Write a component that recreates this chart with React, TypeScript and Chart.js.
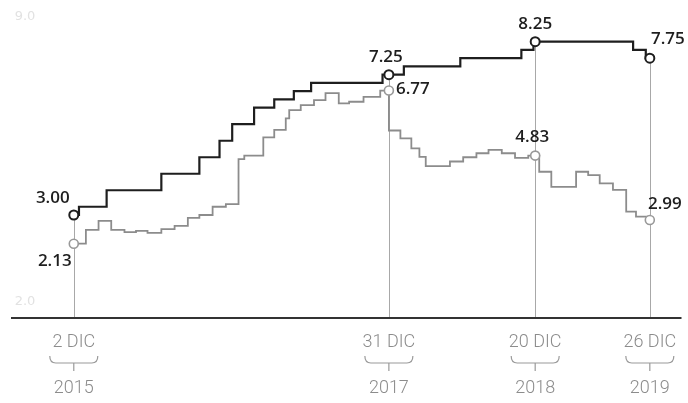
import React, { useEffect, useRef } from "react";
import { Chart, registerables } from "chart.js";

Chart.register(...registerables);

// Position along the (non-linear) timeline: 0 = 2 DIC 2015, 100 = 26 DIC 2019
const rateT = [0, 0.9, 5.7, 15.2, 21.8, 25.3, 27.5, 31.3, 34.8, 38.2, 41.2, 53.6, 57.3, 67.1, 77.7, 79.8, 97.1, 99.3, 100];
const rateV = [3.0, 3.25, 3.75, 4.25, 4.75, 5.25, 5.75, 6.25, 6.5, 6.75, 7.0, 7.25, 7.5, 7.75, 8.0, 8.25, 8.0, 7.75, 7.75];

const inflT = [0, 2.1, 4.3, 6.5, 8.8, 10.8, 12.8, 15.2, 17.5, 19.8, 21.8, 24.1, 26.4, 28.6, 29.6, 32.9, 34.8, 36.8, 37.4, 39.4, 41.7, 43.7, 46.0, 47.8, 50.3, 53.2, 54.7, 54.7, 56.7, 58.6, 60.0, 61.1, 65.3, 67.6, 69.9, 72.0, 74.3, 76.6, 78.9, 80.8, 82.9, 87.2, 89.3, 91.3, 93.6, 95.9, 97.6, 100];
const inflV = [2.13, 2.55, 2.82, 2.55, 2.48, 2.52, 2.46, 2.57, 2.67, 2.91, 3.0, 3.25, 3.33, 4.69, 4.8, 5.35, 5.58, 5.93, 6.18, 6.33, 6.48, 6.69, 6.38, 6.43, 6.58, 6.77, 6.77, 5.56, 5.32, 5.02, 4.76, 4.48, 4.62, 4.75, 4.87, 4.97, 4.87, 4.73, 4.8, 4.31, 3.85, 4.31, 4.21, 3.96, 3.76, 3.10, 2.95, 2.85];

const markerT = [0, 54.7, 80.1, 100];
const rateMarkV = [3.0, 7.25, 8.25, 7.75];
const inflMarkV = [2.13, 6.77, 4.8, 2.85];
const rateLabels = ["3.00", "7.25", "8.25", "7.75"];
const inflLabels = ["2.13", "6.77", "4.83", "2.99"];
const dateLabels = ["2 DIC", "31 DIC", "20 DIC", "26 DIC"];
const yearLabels = ["2015", "2017", "2018", "2019"];
const ghostTicks = ["9.0", "2.0"];

const rateOffsets = [[-21, -17], [-3, -18], [0, -18], [18, -19]];
const inflOffsets = [[-19, 17], [24, -1], [-3, -18], [15, -16]];

const zip = (xs: number[], ys: number[]) => xs.map((x, i) => ({ x, y: ys[i] }));

export default function App() {
  const ref = useRef<HTMLCanvasElement | null>(null);

  useEffect(() => {
    if (!ref.current) return;

    const decor = {
      id: "decor",
      beforeDatasetsDraw(chart: any) {
        const { ctx, chartArea, scales } = chart;
        const xs = scales.x;
        const ys = scales.y;
        ctx.save();
        // ghost tick labels
        ctx.fillStyle = "#e2e2e2";
        ctx.font = "13px 'DejaVu Sans'";
        ctx.textAlign = "center";
        ctx.textBaseline = "middle";
        ctx.fillText(ghostTicks[0], 25, 17);
        ctx.fillText(ghostTicks[1], 25, 302);
        // drop lines
        ctx.strokeStyle = "#a8a8a8";
        ctx.lineWidth = 1;
        markerT.forEach((t, i) => {
          const px = Math.round(xs.getPixelForValue(t)) + 0.5;
          const top = ys.getPixelForValue(Math.max(rateMarkV[i], inflMarkV[i]));
          ctx.beginPath();
          ctx.moveTo(px, top);
          ctx.lineTo(px, chartArea.bottom);
          ctx.stroke();
        });
        // axis line
        ctx.strokeStyle = "#333";
        ctx.lineWidth = 2;
        ctx.beginPath();
        ctx.moveTo(chartArea.left, chartArea.bottom);
        ctx.lineTo(chartArea.right, chartArea.bottom);
        ctx.stroke();
        // date labels with braces
        ctx.fillStyle = "#8c8c8c";
        ctx.strokeStyle = "#9a9a9a";
        ctx.lineWidth = 1.2;
        markerT.forEach((t, i) => {
          const px = xs.getPixelForValue(t);
          ctx.font = "300 18px Roboto";
          ctx.textAlign = "center";
          ctx.textBaseline = "middle";
          ctx.fillText(dateLabels[i], px, 342);
          ctx.fillText(yearLabels[i], px, 388);
          const w = 24, top = 356, bot = 363;
          ctx.beginPath();
          ctx.moveTo(px - w, top);
          ctx.quadraticCurveTo(px - w, bot, px - w + 6, bot);
          ctx.lineTo(px + w - 6, bot);
          ctx.quadraticCurveTo(px + w, bot, px + w, top);
          ctx.moveTo(px, bot);
          ctx.lineTo(px, 371);
          ctx.stroke();
        });
        ctx.restore();
      },
      afterDatasetsDraw(chart: any) {
        const { ctx, scales } = chart;
        ctx.save();
        ctx.fillStyle = "#1e1e1e";
        ctx.font = "600 17px 'Open Sans'";
        ctx.textAlign = "center";
        ctx.textBaseline = "middle";
        markerT.forEach((t, i) => {
          const px = scales.x.getPixelForValue(t);
          const pr = scales.y.getPixelForValue(rateMarkV[i]);
          const pi = scales.y.getPixelForValue(inflMarkV[i]);
          ctx.fillText(rateLabels[i], px + rateOffsets[i][0], pr + rateOffsets[i][1]);
          ctx.fillText(inflLabels[i], px + inflOffsets[i][0], pi + inflOffsets[i][1]);
        });
        ctx.restore();
      },
    };

    const chart = new Chart(ref.current, {
      type: "line",
      data: {
        datasets: [
          {
            label: "rate markers",
            data: zip(markerT, rateMarkV),
            showLine: false,
            pointRadius: 4.5,
            pointBorderWidth: 2,
            pointBorderColor: "#1e1e1e",
            pointBackgroundColor: "#ffffff",
          },
          {
            label: "inflation markers",
            data: zip(markerT, inflMarkV),
            showLine: false,
            pointRadius: 4.5,
            pointBorderWidth: 1.6,
            pointBorderColor: "#999999",
            pointBackgroundColor: "#ffffff",
          },
          {
            label: "Tasa",
            data: zip(rateT, rateV),
            stepped: true,
            borderColor: "#1e1e1e",
            borderWidth: 2.2,
            pointRadius: 0,
            fill: false,
          },
          {
            label: "Inflación",
            data: zip(inflT, inflV),
            stepped: true,
            borderColor: "#8c8c8c",
            borderWidth: 1.8,
            pointRadius: 0,
            fill: false,
          },
        ],
      },
      options: {
        animation: false,
        responsive: false,
        layout: { padding: { left: 11, right: 4, top: 10, bottom: 85 } },
        plugins: { legend: { display: false }, tooltip: { enabled: false } },
        scales: {
          x: { type: "linear", display: false, min: -10.9, max: 105.5 },
          y: { type: "linear", display: false, min: -0.12, max: 9.21 },
        },
      },
      plugins: [decor],
    });
    return () => chart.destroy();
  }, []);

  return (
    <div style={{ position: "fixed", left: 0, top: 0, width: 688, height: 403, background: "#fff" }}>
      <canvas ref={ref} width={688} height={403} />
    </div>
  );
}
